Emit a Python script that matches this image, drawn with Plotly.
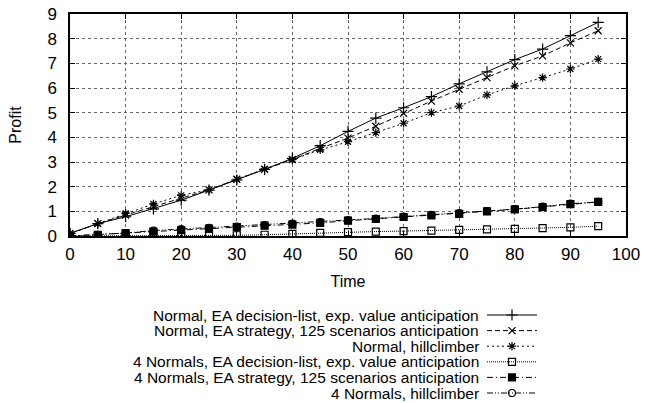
import plotly.graph_objects as go

# Profit over time for six planning configurations
time = [0, 5, 10, 15, 20, 25, 30, 35, 40, 45, 50, 55, 60, 65, 70, 75, 80, 85, 90, 95]

normal_ea_list = [0.11, 0.50, 0.78, 1.10, 1.45, 1.86, 2.27, 2.70, 3.15, 3.66,
                  4.24, 4.78, 5.20, 5.65, 6.17, 6.65, 7.15, 7.58, 8.12, 8.66]
normal_ea_strategy = [0.10, 0.50, 0.85, 1.20, 1.55, 1.87, 2.30, 2.70, 3.10, 3.55,
                      3.97, 4.45, 4.97, 5.47, 5.95, 6.42, 6.90, 7.30, 7.83, 8.32]
normal_hill = [0.10, 0.50, 0.92, 1.30, 1.65, 1.87, 2.30, 2.72, 3.10, 3.49,
               3.82, 4.19, 4.57, 5.00, 5.27, 5.72, 6.09, 6.42, 6.77, 7.17]
four_ea_list = [0.00, 0.00, 0.01, 0.01, 0.00, 0.01, 0.03, 0.05, 0.09, 0.13,
                0.16, 0.18, 0.20, 0.22, 0.25, 0.27, 0.29, 0.32, 0.35, 0.40]
four_ea_strategy = [0.00, 0.05, 0.12, 0.18, 0.24, 0.30, 0.36, 0.42, 0.46, 0.53,
                    0.62, 0.69, 0.77, 0.84, 0.90, 1.00, 1.08, 1.17, 1.29, 1.38]
four_hill = [0.00, 0.05, 0.12, 0.22, 0.28, 0.33, 0.38, 0.44, 0.50, 0.56,
             0.64, 0.71, 0.79, 0.86, 0.93, 1.01, 1.09, 1.19, 1.31, 1.38]

labels = [
    "Normal, EA decision-list, exp. value anticipation",
    "Normal, EA strategy, 125 scenarios anticipation",
    "Normal, hillclimber",
    "4 Normals, EA decision-list, exp. value anticipation",
    "4 Normals, EA strategy, 125 scenarios anticipation",
    "4 Normals, hillclimber",
]
series = [normal_ea_list, normal_ea_strategy, normal_hill,
          four_ea_list, four_ea_strategy, four_hill]

styles = [
    dict(dash="solid", symbol="cross-thin-open", size=8),
    dict(dash="5px,3px", symbol="x-thin-open", size=7),
    dict(dash="2px,3px", symbol="asterisk-open", size=7),
    dict(dash="1px,1px", symbol="square-open", size=7),
    dict(dash="6px,3px,1px,3px", symbol="square", size=7),
    dict(dash="6px,2px,1px,2px,1px,2px", symbol="circle-open", size=7),
]

FONT = "Liberation Sans, Arial, sans-serif"
W, H = 646, 403
L, R, T, B = 70, 20, 14, 2
plot_h = H - T - B
y_bottom_px = 236
main_dom_lo = (H - B - y_bottom_px) / plot_h
key_dom_hi = 0.36

fig = go.Figure()

for vals, name, st in zip(series, labels, styles):
    fig.add_trace(go.Scatter(
        x=time, y=vals, name=name, mode="lines+markers",
        line=dict(color="black", width=1, dash=st["dash"]),
        marker=dict(symbol=st["symbol"], size=st["size"], color="black",
                    line=dict(color="black", width=1.2)),
        showlegend=False, xaxis="x", yaxis="y",
    ))

# Key below the plot: right-aligned text with the line sample to its right.
# The key axes use pixel units so rows can be laid out directly.
row_y = [315 + 15.6 * i for i in range(len(labels))]
key_lo_px, key_hi_px = H - B, H - B - key_dom_hi * plot_h
for yrow, name, st in zip(row_y, labels, styles):
    fig.add_trace(go.Scatter(
        x=[487, 537], y=[yrow, yrow], mode="lines",
        line=dict(color="black", width=1, dash=st["dash"]),
        showlegend=False, hoverinfo="skip", xaxis="x2", yaxis="y2",
    ))
    fig.add_trace(go.Scatter(
        x=[512], y=[yrow], mode="markers",
        marker=dict(symbol=st["symbol"], size=st["size"], color="black",
                    line=dict(color="black", width=1.2)),
        showlegend=False, hoverinfo="skip", xaxis="x2", yaxis="y2",
    ))
    fig.add_annotation(
        x=481, y=yrow, xref="x2", yref="y2", text=name, showarrow=False,
        xanchor="right", yanchor="middle",
        font=dict(family=FONT, size=15.5, color="black"),
    )

axis_common = dict(
    showline=True, linecolor="black", linewidth=1.5, mirror="ticks",
    ticks="inside", ticklen=5, tickcolor="black", tickwidth=1,
    showgrid=True, gridcolor="#666666", gridwidth=1, griddash="dot",
    zeroline=False, automargin=False,
    tickfont=dict(family=FONT, size=17, color="black"),
)

fig.update_layout(
    width=W, height=H,
    margin=dict(l=L, r=R, t=T, b=B),
    paper_bgcolor="white", plot_bgcolor="white",
    xaxis=dict(range=[0, 100], tickvals=list(range(0, 101, 10)),
               title=dict(text="Time", font=dict(family=FONT, size=16, color="black"), standoff=13),
               ticklabelstandoff=2, anchor="y", **axis_common),
    yaxis=dict(range=[0, 9], tickvals=list(range(0, 10)), domain=[main_dom_lo, 1],
               title=dict(text="Profit", font=dict(family=FONT, size=16, color="black"), standoff=22),
               ticklabelstandoff=8, anchor="x", **axis_common),
    xaxis2=dict(range=[L, W - R], domain=[0, 1], visible=False, anchor="y2", automargin=False),
    yaxis2=dict(range=[key_lo_px, key_hi_px], domain=[0, key_dom_hi], visible=False,
                anchor="x2", automargin=False),
    showlegend=False,
)

fig.write_html("out.html")
